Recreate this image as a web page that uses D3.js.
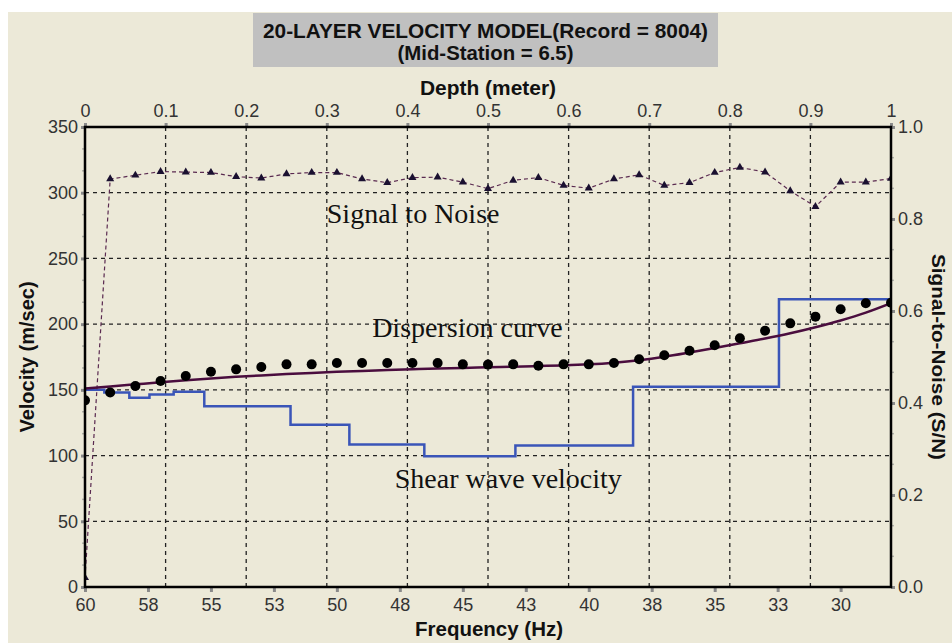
<!DOCTYPE html>
<html>
<head>
<meta charset="utf-8">
<script src="https://cdn.jsdelivr.net/npm/d3@7"></script>
<style>
  html, body { margin: 0; padding: 0; background: #ffffff; }
  svg { display: block; }
</style>
</head>
<body>
<script>
// ---------------- DATA ----------------
const titleLines = ["20-LAYER VELOCITY MODEL(Record = 8004)", "(Mid-Station = 6.5)"];

// frequency samples (Hz)
const frequencies = [60,59,58,57,56,55,54,53,52,51,50,49,48,47,46,45,44,43,42,41,40,39,38,37,36,35,34,33,32,31,30,29,28];

// observed dispersion (phase velocity, m/s) - black dots
const dispersionObserved = [142,148,153,156.7,160.5,163.8,165.6,167.4,169.4,169.4,170.4,170.4,170.4,170.4,170.4,169.4,169.2,169.4,168.4,169.4,169.4,170.4,173.3,176.3,179.8,183.9,189.2,195,200.6,205.7,211.3,215.9,216.3];

// modelled dispersion curve (m/s) - purple line
const dispersionModel = [151,152.6,154.2,155.8,157.3,158.7,159.9,161,162,162.9,163.7,164.4,165.1,165.7,166.2,166.7,167.2,167.6,168.1,168.6,169.4,170.7,172.6,175.2,178.4,181.8,185.4,189,193,197.6,202.8,208.8,216];

// signal-to-noise ratio - triangles
const signalToNoise = [0.02,0.887,0.895,0.903,0.902,0.901,0.892,0.889,0.898,0.901,0.901,0.887,0.879,0.890,0.891,0.880,0.866,0.884,0.890,0.873,0.867,0.887,0.896,0.873,0.879,0.901,0.912,0.902,0.861,0.827,0.880,0.880,0.888];

// shear-wave velocity model (layer top depth in m, velocity m/s)
const layerTopDepth = [0,0.024,0.055,0.080,0.110,0.148,0.255,0.328,0.421,0.534,0.680,0.861];
const layerVelocity = [150,148,144,146.5,148.5,137.5,123.5,108.5,99.5,107.7,152.4,218.9];
const modelBottomDepth = 1.0;

// axis ticks
const freqTicks = [60,57.5,55,52.5,50,47.5,45,42.5,40,37.5,35,32.5,30];
const freqTickLabels = ["60","58","55","53","50","48","45","43","40","38","35","33","30"];
const depthTicks = [0,0.1,0.2,0.3,0.4,0.5,0.6,0.7,0.8,0.9,1];
const depthTickLabels = ["0","0.1","0.2","0.3","0.4","0.5","0.6","0.7","0.8","0.9","1"];
const velTicks = [0,50,100,150,200,250,300,350];
const snTicks = [0,0.2,0.4,0.6,0.8,1.0];
const snTickLabels = ["0.0","0.2","0.4","0.6","0.8","1.0"];

const annotations = [
  {text: "Signal to Noise", f: 50.4, v: 277},
  {text: "Dispersion curve", f: 48.6, v: 190},
  {text: "Shear wave velocity", f: 47.7, v: 75}
];

// ---------------- LAYOUT ----------------
const W = 952, H = 643;
const L = 85, R = 891, T = 127, B = 587;
const sans = "'Liberation Sans', Arial, sans-serif";
const serif = "'Liberation Serif', 'Times New Roman', serif";

const svg = d3.select("body").append("svg").attr("width", W).attr("height", H);

svg.append("rect").attr("x", 0).attr("y", 0).attr("width", W).attr("height", H).attr("fill", "#ffffff");
svg.append("rect").attr("x", 8).attr("y", 12).attr("width", W - 8).attr("height", H - 12).attr("fill", "#ECE9D8");

svg.append("defs").append("clipPath").attr("id", "plotclip")
  .append("rect").attr("x", L).attr("y", T).attr("width", R - L).attr("height", B - T);

const xFreq = d3.scaleLinear().domain([60, 28]).range([L, R]);
const xDepth = d3.scaleLinear().domain([0, 1]).range([L, R]);
const yVel = d3.scaleLinear().domain([0, 350]).range([B, T]);
const ySN = d3.scaleLinear().domain([0, 1]).range([B, T]);

// title box
svg.append("rect").attr("x", 253).attr("y", 13).attr("width", 465).attr("height", 54).attr("fill", "#C0C0C0");
svg.append("text").attr("x", 485.5).attr("y", 38).attr("text-anchor", "middle")
  .attr("font-family", sans).attr("font-weight", "bold").attr("font-size", 21).attr("fill", "#111")
  .attr("textLength", 445).attr("lengthAdjust", "spacingAndGlyphs")
  .text(titleLines[0]);
svg.append("text").attr("x", 485.5).attr("y", 60).attr("text-anchor", "middle")
  .attr("font-family", sans).attr("font-weight", "bold").attr("font-size", 21).attr("fill", "#111")
  .attr("textLength", 176).attr("lengthAdjust", "spacingAndGlyphs")
  .text(titleLines[1]);

// gridlines
const grid = svg.append("g").attr("stroke", "#222").attr("stroke-width", 1.3).attr("stroke-dasharray", "4,4");
grid.selectAll("line.h").data(velTicks.filter(v => v > 0 && v < 350)).join("line")
  .attr("x1", L).attr("x2", R).attr("y1", d => yVel(d)).attr("y2", d => yVel(d));
grid.selectAll("line.v").data(depthTicks.filter(d => d > 0 && d < 1)).join("line")
  .attr("y1", T).attr("y2", B).attr("x1", d => xDepth(d)).attr("x2", d => xDepth(d));

// axes
function styleAxis(g, fs) {
  g.select(".domain").remove();
  g.selectAll(".tick line").attr("stroke", "#8a8a8a").attr("stroke-width", 3);
  g.selectAll(".tick text").attr("font-family", sans).attr("font-size", fs).attr("fill", "#333");
}
const axB = svg.append("g").attr("transform", `translate(0,${B})`)
  .call(d3.axisBottom(xFreq).tickValues(freqTicks).tickFormat((d, i) => freqTickLabels[i]).tickSize(5).tickPadding(6));
styleAxis(axB, 18);
const axT = svg.append("g").attr("transform", `translate(0,${T})`)
  .call(d3.axisTop(xDepth).tickValues(depthTicks).tickFormat((d, i) => depthTickLabels[i]).tickSize(4).tickPadding(6));
styleAxis(axT, 18);
const axLft = svg.append("g").attr("transform", `translate(${L},0)`)
  .call(d3.axisLeft(yVel).tickValues(velTicks).tickFormat(d3.format("d")).tickSize(4).tickPadding(3));
styleAxis(axLft, 18);
const axRt = svg.append("g").attr("transform", `translate(${R},0)`)
  .call(d3.axisRight(ySN).tickValues(snTicks).tickFormat((d, i) => snTickLabels[i]).tickSize(4).tickPadding(3));
styleAxis(axRt, 18);

// minor ticks
const minorVel = [];
for (let i = 0; i < velTicks.length - 1; i++) { for (let k = 1; k < 3; k++) minorVel.push(velTicks[i] + k * 50 / 3); }
svg.append("g").selectAll("line").data(minorVel).join("line")
  .attr("x1", L - 3).attr("x2", L + 1).attr("y1", d => yVel(d)).attr("y2", d => yVel(d))
  .attr("stroke", "#b0b0a8").attr("stroke-width", 1.5);
const minorSN = [];
for (let i = 0; i < snTicks.length - 1; i++) { for (let k = 1; k < 3; k++) minorSN.push(snTicks[i] + k * 0.2 / 3); }
svg.append("g").selectAll("line").data(minorSN).join("line")
  .attr("x1", R - 1).attr("x2", R + 3).attr("y1", d => ySN(d)).attr("y2", d => ySN(d))
  .attr("stroke", "#b0b0a8").attr("stroke-width", 1.5);

const plot = svg.append("g").attr("clip-path", "url(#plotclip)");

// shear wave velocity step line
const stepPts = layerTopDepth.map((d, i) => [d, layerVelocity[i]]);
stepPts.push([modelBottomDepth, layerVelocity[layerVelocity.length - 1]]);
plot.append("path").datum(stepPts)
  .attr("d", d3.line().x(d => xDepth(d[0])).y(d => yVel(d[1])).curve(d3.curveStepAfter))
  .attr("fill", "none").attr("stroke", "#3A55B8").attr("stroke-width", 2.5);

// S/N dashed line
plot.append("path").datum(frequencies.map((f, i) => [f, signalToNoise[i]]))
  .attr("d", d3.line().x(d => xFreq(d[0])).y(d => ySN(d[1])))
  .attr("fill", "none").attr("stroke", "#5a2a50").attr("stroke-width", 1.2).attr("stroke-dasharray", "4,3");
plot.append("g").selectAll("path").data(frequencies.map((f, i) => [f, signalToNoise[i]])).join("path")
  .attr("transform", d => `translate(${xFreq(d[0])},${ySN(d[1])})`)
  .attr("d", d3.symbol().type(d3.symbolTriangle).size(28))
  .attr("fill", "#1a1030");

// dispersion model curve
plot.append("path").datum(frequencies.map((f, i) => [f, dispersionModel[i]]))
  .attr("d", d3.line().x(d => xFreq(d[0])).y(d => yVel(d[1])).curve(d3.curveMonotoneX))
  .attr("fill", "none").attr("stroke", "#4A0D3E").attr("stroke-width", 2.5);

// observed dispersion dots
plot.append("g").selectAll("circle").data(frequencies.map((f, i) => [f, dispersionObserved[i]])).join("circle")
  .attr("cx", d => xFreq(d[0])).attr("cy", d => yVel(d[1])).attr("r", 5).attr("fill", "#000");

// frame
svg.append("rect").attr("x", L).attr("y", T).attr("width", R - L).attr("height", B - T)
  .attr("fill", "none").attr("stroke", "#000").attr("stroke-width", 2.5);

// annotations
svg.append("g").selectAll("text").data(annotations).join("text")
  .attr("x", d => xFreq(d.f)).attr("y", d => yVel(d.v))
  .attr("font-family", serif).attr("font-size", 28).attr("fill", "#111")
  .text(d => d.text);

// axis titles
svg.append("text").attr("x", 488).attr("y", 95).attr("text-anchor", "middle")
  .attr("font-family", sans).attr("font-weight", "bold").attr("font-size", 20).attr("fill", "#111")
  .attr("textLength", 136).attr("lengthAdjust", "spacingAndGlyphs")
  .text("Depth (meter)");
svg.append("text").attr("x", 489).attr("y", 636).attr("text-anchor", "middle")
  .attr("font-family", sans).attr("font-weight", "bold").attr("font-size", 20).attr("fill", "#111")
  .attr("textLength", 148).attr("lengthAdjust", "spacingAndGlyphs")
  .text("Frequency (Hz)");
svg.append("text").attr("transform", `translate(34,${(T + B) / 2}) rotate(-90)`).attr("text-anchor", "middle")
  .attr("font-family", sans).attr("font-weight", "bold").attr("font-size", 20).attr("fill", "#111")
  .text("Velocity (m/sec)");
svg.append("text").attr("transform", `translate(932,${(T + B) / 2}) rotate(90)`).attr("text-anchor", "middle")
  .attr("font-family", sans).attr("font-weight", "bold").attr("font-size", 19).attr("fill", "#111")
  .attr("textLength", 206).attr("lengthAdjust", "spacingAndGlyphs")
  .text("Signal-to-Noise (S/N)");
</script>
</body>
</html>
